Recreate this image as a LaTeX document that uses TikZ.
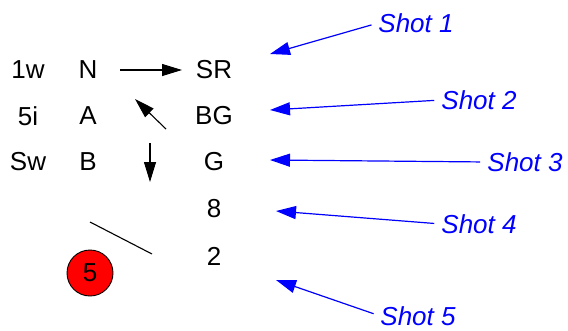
\documentclass[tikz,border=0pt]{standalone}
\usepackage{fontspec}
\setmainfont{Liberation Sans}
\usetikzlibrary{arrows.meta}

\begin{document}
\begin{tikzpicture}[x=1pt,y=-1pt,
    txt/.style={inner sep=2pt,font=\fontsize{26}{30}\selectfont},
    shot/.style={inner sep=0pt,text=blue,font=\fontsize{26}{30}\selectfont\itshape},
    blk/.style={-{Triangle[length=20pt,width=12pt]},line width=1.1pt},
    blu/.style={-{Triangle[length=20pt,width=13pt]},draw=blue,line width=1.2pt,shorten <=7pt}]
      \useasboundingbox (0,0) rectangle (568,330);
      \draw
        (28,70) node[txt] (w1){1w}
        (88,70) node[txt] (n){N}
        (214,70) node[txt] (sr){SR}
        (28,116) node[txt] (i5){5i}
        (88,116) node[txt] (a){A}
        (214,116) node[txt] (bg){BG}
        (28,162) node[txt] (sw){Sw}
        (88,162) node[txt] (b){B}
        (214,162) node[txt] (g){G}
        (214,209) node[txt] (r8){8}
        (214,256) node[txt] (r2){2};
      \node[circle,draw=black,fill=red,line width=0.9pt,minimum size=46pt,inner sep=0pt,
        font=\fontsize{26}{30}\selectfont] (ball) at (90,273) {5};
      % black marks
      \coordinate (nr) at (120,70);
      \coordinate (srl) at (182,70);
      \coordinate (dfrom) at (166,129);
      \coordinate (dto) at (135,99);
      \coordinate (vfrom) at (150,143);
      \coordinate (vto) at (150,182);
      \coordinate (lfrom) at (90,222);
      \coordinate (lto) at (152,254);
      \draw[blk] (nr) -- (srl);
      \draw[blk] (dfrom) -- (dto);
      \draw[blk] (vfrom) -- (vto);
      \draw[line width=1.1pt] (lfrom) -- (lto);
      % shots
      \draw
        (416,23) node[shot] (s1){Shot 1}
        (479,100) node[shot] (s2){Shot 2}
        (525,162) node[shot] (s3){Shot 3}
        (479,224) node[shot] (s4){Shot 4}
        (418,316) node[shot] (s5){Shot 5};
      \coordinate (t1) at (270,54);
      \coordinate (t2) at (270,110);
      \coordinate (t3) at (270,160);
      \coordinate (t4) at (276,211);
      \coordinate (t5) at (276,280);
      \begin{scope}[blu]
        \draw (s1.west) -- (t1);
        \draw (s2.west) -- (t2);
        \draw (s3.west) -- (t3);
        \draw (s4.west) -- (t4);
        \draw (s5.west) -- (t5);
      \end{scope}
    \end{tikzpicture}
\end{document}
